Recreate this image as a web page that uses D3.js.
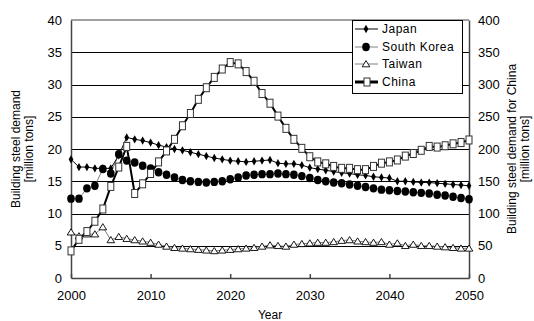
<!DOCTYPE html>
<html>
<head>
<meta charset="utf-8">
<script src="https://cdn.jsdelivr.net/npm/d3@7"></script>
<style>
  body { margin: 0; background: #fff; }
  text { font-family: "Liberation Sans", Arial, sans-serif; fill: #000; }
</style>
</head>
<body>
<div id="chart"></div>
<script>
var years = d3.range(2000, 2051);

var japan = [18.4, 17.2, 17.2, 17.0, 17.0, 17.0, 19.0, 21.8, 21.5, 21.3,
  21.0, 20.6, 20.3, 20.0, 19.8, 19.5, 19.2, 18.9, 18.6, 18.4,
  18.2, 18.1, 18.0, 18.1, 18.2, 18.3, 17.8, 17.7, 17.7, 17.5,
  17.1, 16.9, 16.7, 16.5, 16.3, 16.2, 16.0, 15.9, 15.7, 15.6,
  15.5, 15.0, 15.0, 14.9, 14.8, 14.8, 14.7, 14.6, 14.5, 14.4, 14.3];

var korea = [12.3, 12.3, 13.9, 14.3, 16.9, 16.2, 19.2, 18.2, 17.9, 17.4,
  17.0, 16.4, 16.0, 15.6, 15.2, 15.0, 14.9, 14.8, 14.9, 15.0,
  15.3, 15.6, 15.9, 16.0, 16.1, 16.1, 16.2, 16.1, 16.0, 15.8,
  15.5, 15.2, 15.0, 14.8, 14.7, 14.5, 14.3, 14.1, 13.9, 13.7,
  13.6, 13.5, 13.4, 13.3, 13.2, 13.1, 12.9, 12.8, 12.6, 12.4, 12.2];

var taiwan = [7.1, 6.5, 6.8, 6.8, 7.9, 5.9, 6.4, 6.1, 5.9, 5.7,
  5.5, 5.2, 4.9, 4.7, 4.6, 4.5, 4.4, 4.3, 4.2, 4.3,
  4.4, 4.5, 4.6, 4.7, 4.9, 5.1, 5.0, 4.9, 5.2, 5.3,
  5.4, 5.5, 5.5, 5.6, 5.8, 5.9, 5.7, 5.6, 5.5, 5.6,
  5.2, 5.4, 5.0, 5.2, 5.0, 5.0, 4.9, 4.8, 4.7, 4.6, 4.6];

// China is on the right axis (million tons, 0-400)
var china = [42, 60, 72, 88, 107, 142, 172, 204, 131, 146,
  162, 180, 197, 215, 236, 255, 277, 295, 311, 324,
  334, 332, 320, 305, 286, 271, 251, 232, 215, 201,
  188, 180, 177, 173, 170, 170, 168, 168, 173, 178,
  180, 183, 189, 193, 198, 204, 203, 205, 208, 210, 214];

var xTicks = [2000, 2010, 2020, 2030, 2040, 2050];
var yTicks = [0, 5, 10, 15, 20, 25, 30, 35, 40];
var y2Ticks = [0, 50, 100, 150, 200, 250, 300, 350, 400];
var legendNames = ["Japan", "South Korea", "Taiwan", "China"];

var W = 534, H = 321;
var pl = 71, pr = 469, pt = 20, pb = 278;

var svg = d3.select("#chart").append("svg")
  .attr("width", W).attr("height", H);

var x = d3.scaleLinear().domain([2000, 2050]).range([pl, pr]);
var y = d3.scaleLinear().domain([0, 40]).range([pb, pt]);
var y2 = d3.scaleLinear().domain([0, 400]).range([pb, pt]);

// gridlines
svg.append("g").selectAll("line")
  .data(yTicks.filter(function(d) { return d > 0 && d < 40; }))
  .enter().append("line")
  .attr("x1", pl).attr("x2", pr)
  .attr("y1", function(d) { return Math.round(y(d)) + 0.5; })
  .attr("y2", function(d) { return Math.round(y(d)) + 0.5; })
  .attr("stroke", "#000").attr("stroke-width", 1);

// top border
svg.append("line")
  .attr("x1", pl).attr("x2", pr).attr("y1", pt).attr("y2", pt)
  .attr("stroke", "#808080").attr("stroke-width", 1.5);

// axes
var xAxis = svg.append("g")
  .attr("transform", "translate(0," + pb + ")")
  .call(d3.axisBottom(x).tickValues(xTicks).tickFormat(d3.format("d"))
    .tickSizeInner(-4).tickSizeOuter(0).tickPadding(13));
var yAxis = svg.append("g")
  .attr("transform", "translate(" + pl + ",0)")
  .call(d3.axisLeft(y).tickValues(yTicks).tickSize(0).tickPadding(9));
var y2Axis = svg.append("g")
  .attr("transform", "translate(" + pr + ",0)")
  .call(d3.axisRight(y2).tickValues(y2Ticks).tickSize(0).tickPadding(9));

[xAxis, yAxis, y2Axis].forEach(function(a) {
  a.selectAll("text").style("font-size", "13px")
    .style("font-family", "'Liberation Sans', Arial, sans-serif");
  a.selectAll("path, line").attr("stroke", "#444").attr("stroke-width", 1.5);
});

// axis titles
svg.append("text")
  .attr("x", 270).attr("y", 319)
  .attr("text-anchor", "middle").style("font-size", "12px")
  .text("Year");

function vtitle(cx, lines) {
  var t = svg.append("text")
    .attr("transform", "translate(" + cx + "," + 149 + ") rotate(-90)")
    .attr("text-anchor", "middle").style("font-size", "12px");
  lines.forEach(function(s, i) {
    t.append("tspan").attr("x", 0).attr("dy", i === 0 ? 0 : 13).text(s);
  });
}
vtitle(20, ["Building steel demand", "[million tons]"]);
vtitle(516, ["Building steel demand for China", "[million tons]"]);

// lines
function lineFor(scale) {
  return d3.line()
    .x(function(d, i) { return x(years[i]); })
    .y(function(d) { return scale(d); });
}

svg.append("path").datum(taiwan)
  .attr("d", lineFor(y)).attr("fill", "none")
  .attr("stroke", "#808080").attr("stroke-width", 1);
svg.append("path").datum(korea)
  .attr("d", lineFor(y)).attr("fill", "none")
  .attr("stroke", "#808080").attr("stroke-width", 1);
svg.append("path").datum(japan)
  .attr("d", lineFor(y)).attr("fill", "none")
  .attr("stroke", "#000").attr("stroke-width", 1);
svg.append("path").datum(china)
  .attr("d", lineFor(y2)).attr("fill", "none")
  .attr("stroke", "#000").attr("stroke-width", 2);

// markers
var diamond = d3.symbol().type(d3.symbolDiamond).size(20);
var tri = "M0,-3.4L3.8,2.8L-3.8,2.8Z";

svg.append("g").selectAll("path")
  .data(japan).enter().append("path")
  .attr("d", diamond)
  .attr("transform", function(d, i) { return "translate(" + x(years[i]) + "," + y(d) + ")"; })
  .attr("fill", "#000");

svg.append("g").selectAll("ellipse")
  .data(korea).enter().append("ellipse")
  .attr("cx", function(d, i) { return x(years[i]); })
  .attr("cy", function(d) { return y(d); })
  .attr("rx", 3.8).attr("ry", 4.2)
  .attr("fill", "#000");

svg.append("g").selectAll("path")
  .data(taiwan).enter().append("path")
  .attr("d", tri)
  .attr("transform", function(d, i) { return "translate(" + x(years[i]) + "," + y(d) + ")"; })
  .attr("fill", "#fff").attr("stroke", "#000").attr("stroke-width", 0.9);

svg.append("g").selectAll("rect")
  .data(china).enter().append("rect")
  .attr("x", function(d, i) { return x(years[i]) - 3; })
  .attr("y", function(d) { return y2(d) - 4; })
  .attr("width", 6).attr("height", 8)
  .attr("fill", "#fff").attr("stroke", "#333").attr("stroke-width", 1);

// legend
var lg = svg.append("g");
lg.append("rect")
  .attr("x", 352.5).attr("y", 20.5).attr("width", 110).attr("height", 73)
  .attr("fill", "#fff").attr("stroke", "#000").attr("stroke-width", 1);

var rows = [29, 47, 64, 82];
legendNames.forEach(function(name, i) {
  var ry = rows[i];
  lg.append("line")
    .attr("x1", 355).attr("x2", 378).attr("y1", ry).attr("y2", ry)
    .attr("stroke", i === 3 ? "#000" : (i === 0 ? "#000" : "#808080"))
    .attr("stroke-width", i === 3 ? 3 : 1);
  if (i === 0) {
    lg.append("path").attr("d", diamond)
      .attr("transform", "translate(366," + ry + ")").attr("fill", "#000");
  } else if (i === 1) {
    lg.append("ellipse").attr("cx", 366).attr("cy", ry)
      .attr("rx", 3.8).attr("ry", 4.2).attr("fill", "#000");
  } else if (i === 2) {
    lg.append("path").attr("d", tri)
      .attr("transform", "translate(366," + ry + ")")
      .attr("fill", "#fff").attr("stroke", "#000").attr("stroke-width", 0.9);
  } else {
    lg.append("rect").attr("x", 364).attr("y", ry - 4)
      .attr("width", 6).attr("height", 8)
      .attr("fill", "#fff").attr("stroke", "#333");
  }
  lg.append("text")
    .attr("x", 382).attr("y", ry + 4)
    .style("font-size", "12px").style("letter-spacing", "0.5px")
    .text(name);
});
</script>
</body>
</html>
